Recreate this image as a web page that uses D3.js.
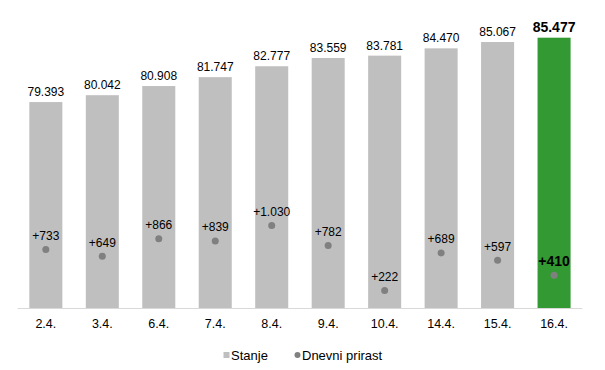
<!DOCTYPE html>
<html>
<head>
<meta charset="utf-8">
<script src="https://cdn.jsdelivr.net/npm/d3@7"></script>
<style>
  body { margin: 0; background: #fff; }
  svg { display: block; font-family: "Liberation Sans", Arial, sans-serif; }
</style>
</head>
<body>
<svg id="chart" width="605" height="370"></svg>
<script>
const dates = ['2.4.', '3.4.', '6.4.', '7.4.', '8.4.', '9.4.', '10.4.', '14.4.', '15.4.', '16.4.'];
const stanje = [79393, 80042, 80908, 81747, 82777, 83559, 83781, 84470, 85067, 85477];
const prirast = [733, 649, 866, 839, 1030, 782, 222, 689, 597, 410];

const svg = d3.select('#chart');
const last = dates.length - 1;
const fmt = v => d3.format(',')(v).replace(/,/g, '.');

const x = d3.scaleBand().domain(dates).range([17.6, 582.3]).paddingInner(0.415).paddingOuter(0.2075);
const y = d3.scaleLinear().domain([59900, 88000]).range([308.3, 11]);
const y2 = d3.scaleLinear().domain([0, 3700]).range([308.3, 11]);

// bars
svg.append('g')
  .selectAll('rect')
  .data(stanje)
  .join('rect')
  .attr('x', (d, i) => x(dates[i]))
  .attr('y', d => y(d))
  .attr('width', x.bandwidth())
  .attr('height', d => y(59900) - y(d))
  .attr('fill', (d, i) => i === last ? '#339933' : '#bfbfbf');

// baseline
svg.append('line')
  .attr('x1', 17.6).attr('x2', 582.3)
  .attr('y1', 308.5).attr('y2', 308.5)
  .attr('stroke', '#d9d9d9');

// bar labels
svg.append('g')
  .selectAll('text')
  .data(stanje)
  .join('text')
  .attr('x', (d, i) => x(dates[i]) + x.bandwidth() / 2)
  .attr('y', d => y(d) - 6)
  .attr('text-anchor', 'middle')
  .attr('font-size', (d, i) => i === last ? 14 : 12)
  .attr('font-weight', (d, i) => i === last ? 'bold' : 'normal')
  .attr('fill', '#000')
  .text(d => fmt(d));

// dots
svg.append('g')
  .selectAll('circle')
  .data(prirast)
  .join('circle')
  .attr('cx', (d, i) => x(dates[i]) + x.bandwidth() / 2)
  .attr('cy', d => y2(d))
  .attr('r', 3.5)
  .attr('fill', '#808080');

svg.append('g')
  .selectAll('text')
  .data(prirast)
  .join('text')
  .attr('x', (d, i) => x(dates[i]) + x.bandwidth() / 2)
  .attr('y', d => y2(d) - 9.5)
  .attr('text-anchor', 'middle')
  .attr('font-size', (d, i) => i === last ? 14 : 12)
  .attr('font-weight', (d, i) => i === last ? 'bold' : 'normal')
  .attr('fill', '#000')
  .text(d => '+' + fmt(d));

// x axis
const xAxis = svg.append('g')
  .attr('transform', 'translate(0,308.5)')
  .call(d3.axisBottom(x).tickSize(0).tickPadding(10.5));
xAxis.select('.domain').remove();
xAxis.selectAll('text')
  .attr('font-size', 12.5)
  .attr('font-family', '"Liberation Sans", Arial, sans-serif')
  .attr('fill', '#000');

// legend
const legend = svg.append('g').attr('transform', 'translate(0,355)');
legend.append('rect')
  .attr('x', 223.5).attr('y', -3).attr('width', 6).attr('height', 6)
  .attr('fill', '#bfbfbf');
legend.append('text')
  .attr('x', 231).attr('y', 4.5)
  .attr('font-size', 13)
  .attr('fill', '#000')
  .text('Stanje');
legend.append('circle')
  .attr('cx', 297.5).attr('cy', 0).attr('r', 3)
  .attr('fill', '#808080');
legend.append('text')
  .attr('x', 302).attr('y', 4.5)
  .attr('font-size', 13)
  .attr('fill', '#000')
  .text('Dnevni prirast');
</script>
</body>
</html>
